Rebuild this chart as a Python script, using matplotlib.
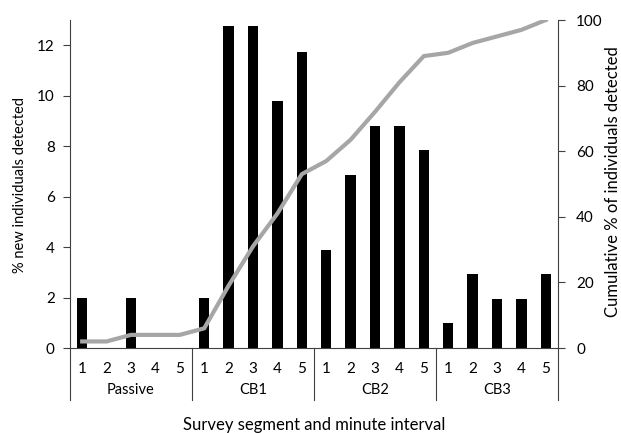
import numpy as np
import matplotlib.pyplot as plt
import matplotlib.transforms as mtransforms

plt.rcParams['font.family'] = ['Lato', 'DejaVu Sans']

groups = ['Passive', 'CB1', 'CB2', 'CB3']
minutes = ['1', '2', '3', '4', '5']
new_pct = [2.0, 0.0, 2.0, 0.0, 0.0,
           2.0, 12.75, 12.75, 9.8, 11.75,
           3.9, 6.85, 8.8, 8.8, 7.85,
           1.0, 2.95, 1.95, 1.95, 2.95]
cum_pct = [2, 2, 4, 4, 4,
           6, 19, 31, 41, 53,
           57, 63.5, 72, 81, 89,
           90, 93, 95, 97, 100]

n = len(new_pct)
x = np.arange(n)

fig = plt.figure(figsize=(6.21, 4.33), dpi=100)
ax = fig.add_axes([0.1127, 0.1963, 0.7859, 0.7575])
ax.bar(x, new_pct, width=0.42, color='black', zorder=2)
ax.set_xlim(-0.5, n - 0.5)
ax.set_ylim(0, 13)
ax.set_yticks(range(0, 13, 2))
ax.spines['top'].set_visible(False)
ax.spines['right'].set_visible(False)
ax.spines['left'].set_color('#404040')
ax.spines['bottom'].set_color('#404040')
ax.tick_params(axis='y', labelsize=11, length=5, pad=6, color='#404040')
ax.set_xticks(x)
ax.set_xticklabels(minutes * len(groups), fontsize=11)
ax.tick_params(axis='x', length=0, pad=10)

ax2 = ax.twinx()
ax2.plot(x, cum_pct, color='#a6a6a6', lw=3, zorder=3)
ax2.set_ylim(0, 100)
ax2.set_yticks(range(0, 101, 20))
ax2.spines['top'].set_visible(False)
ax2.spines['left'].set_visible(False)
ax2.spines['bottom'].set_visible(False)
ax2.spines['right'].set_color('#404040')
ax2.tick_params(axis='y', labelsize=11, length=5, pad=8, color='#404040')

# axis titles
fig.text(20 / 621, 1 - 185 / 433, '% new individuals detected', rotation=90,
         ha='center', va='center', fontsize=10.5)
fig.text(613 / 621, 1 - 182 / 433, 'Cumulative % of individuals detected',
         rotation=90, ha='center', va='center', fontsize=12)
fig.text(0.1127 + 0.7859 / 2, 0.018, 'Survey segment and minute interval',
         ha='center', va='center', fontsize=12)

# group separators and labels below the axis
trans = mtransforms.blended_transform_factory(ax.transData, ax.transAxes)
for k in range(len(groups) + 1):
    xs = k * 5 - 0.5
    ax.plot([xs, xs], [0, -0.159], transform=trans, color='#404040',
            lw=0.8, clip_on=False)
for k, g in enumerate(groups):
    ax.text(k * 5 + 2, -0.128, g, transform=trans, ha='center', va='center',
            fontsize=10.5)

fig.savefig('out.png', dpi=100)
